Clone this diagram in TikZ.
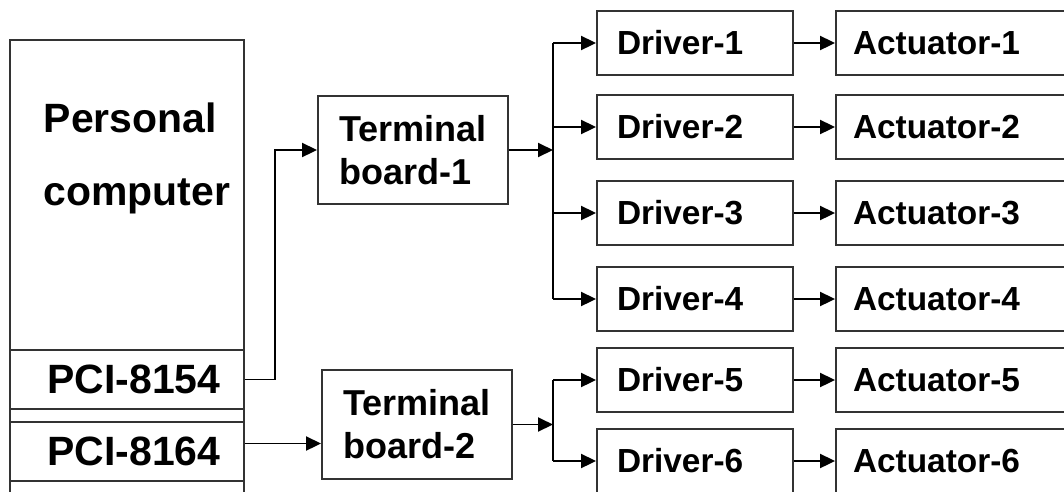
\documentclass[tikz,border=0pt]{standalone}
\usepackage{fontspec}
\setmainfont{Liberation Sans}
\usetikzlibrary{arrows.meta}

\begin{document}
\begin{tikzpicture}[x=0.02cm, y=-0.02cm, line width=1.1pt, >={Triangle[length=0.3cm,width=0.28cm]},
    blk/.style={draw=black!80, fill=white, inner sep=0pt},
    pcslot/.style={blk, minimum width=4.68cm, font=\fontsize{23.3}{28}\selectfont\bfseries},
    tboard/.style={blk, minimum width=3.8cm, minimum height=2.17cm, align=left, font=\fontsize{20.5}{24.5}\selectfont\bfseries},
    drvbox/.style={blk, minimum width=3.92cm, minimum height=1.28cm, inner xsep=0.4cm, text width=3.12cm, align=left, font=\fontsize{19}{22}\selectfont\bfseries},
    actbox/.style={blk, minimum width=5.28cm, minimum height=1.28cm, inner xsep=0.34cm, text width=4.6cm, align=left, font=\fontsize{19}{22}\selectfont\bfseries}]
    \useasboundingbox (0,0) rectangle (1064,491);
    \clip (0,0) rectangle (1064,491);
    % PC
    \node[pcslot, minimum height=10cm] (pc) at (127,290) {};
    \node[align=left, font=\fontsize{23.3}{41.5}\selectfont\bfseries] (pclabel) at (137,158) {Personal\\computer};
    \node[pcslot, minimum height=1.18cm] (pci1) at (127,379.5) {\hspace*{0.28cm}PCI-8154};
    \node[pcslot, minimum height=1.18cm] (pci2) at (127,451.5) {\hspace*{0.28cm}PCI-8164};
    \node[pcslot, minimum height=1.2cm] (pci3) at (127,511) {};
    % terminal boards
    \node[tboard] (tb1) at (413,150) {Terminal\\board-1};
    \node[tboard] (tb2) at (417,424.5) {Terminal\\board-2};
    \draw[->] (pci1.east) -- ++(30,0) |- (tb1.west);
    \draw[->] ([yshift=0.16cm]pci2.east) -- ([yshift=0.16cm]pci2.east -| tb2.west);
    % drivers and actuators
    \foreach \i/\y in {1/43,2/127,3/213,4/299,5/380,6/461} {
        \node[drvbox] (d\i) at (695,\y) {Driver-\i};
        \node[actbox] (a\i) at (968,\y) {Actuator-\i};
        \draw[->] (d\i.east) -- (a\i.west);
    }
    % buses
    \coordinate (bus1) at (553,155);
    \coordinate (bus2) at (553,418);
    \draw[->] (tb1.east) -- (tb1.east -| bus1);
    \draw (bus1 |- d1.west) -- (bus1 |- d4.west);
    \foreach \i in {1,...,4}
        \draw[->] (bus1 |- d\i.west) -- (d\i.west);
    \draw[->] (tb2.east) -- (tb2.east -| bus2);
    \draw (bus2 |- d5.west) -- (bus2 |- d6.west);
    \foreach \i in {5,6}
        \draw[->] (bus2 |- d\i.west) -- (d\i.west);
\end{tikzpicture}
\end{document}
